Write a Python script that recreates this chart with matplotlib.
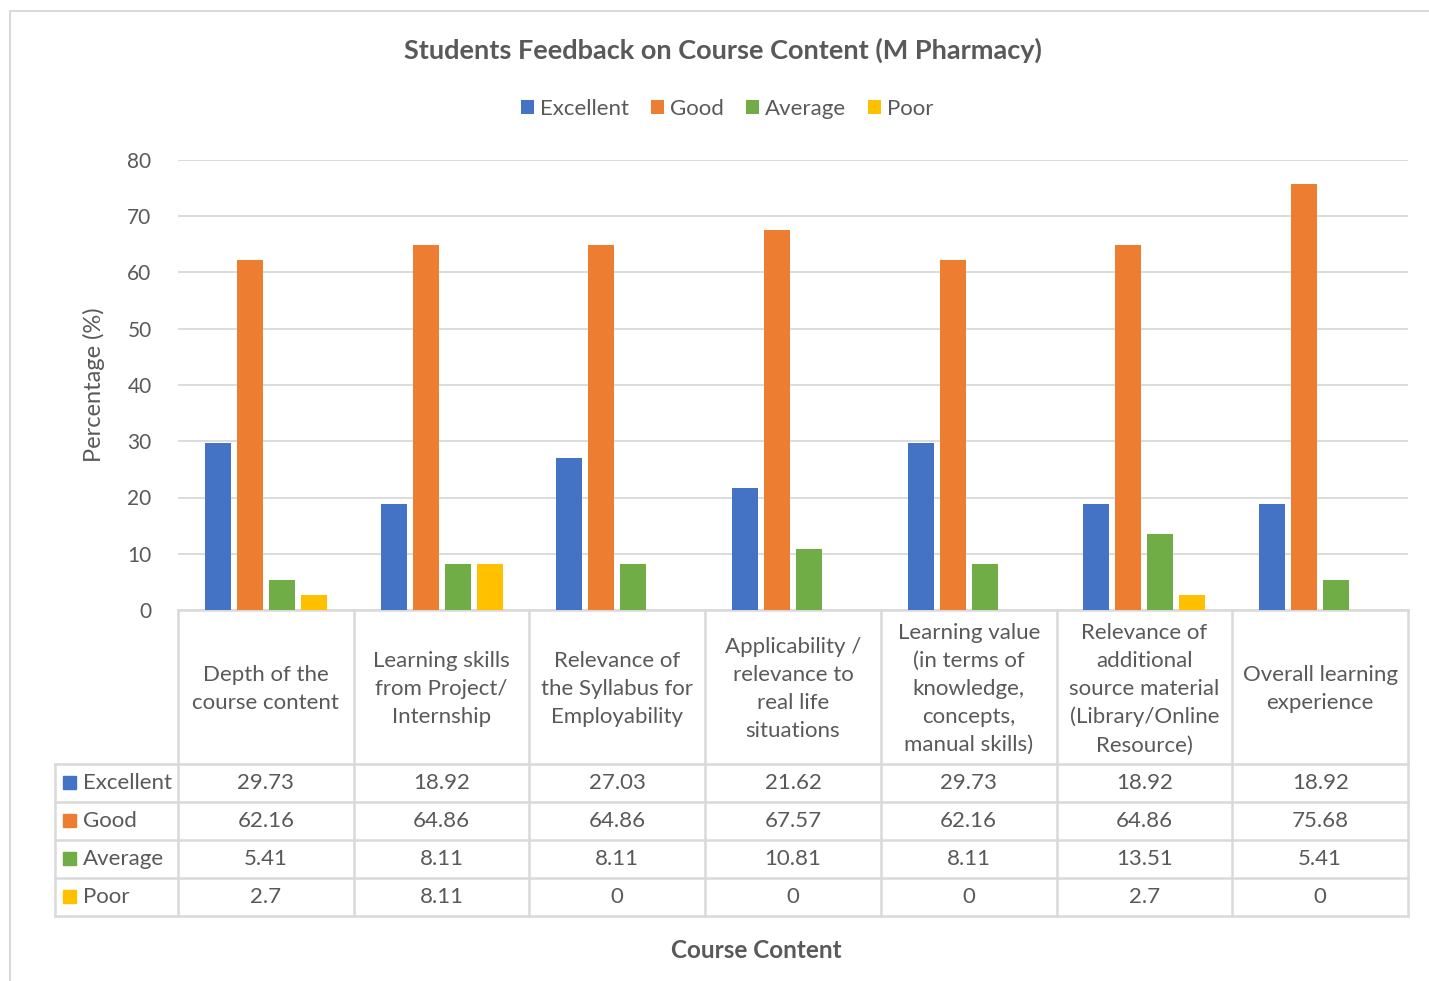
import numpy as np
import matplotlib.pyplot as plt
from matplotlib.patches import Rectangle

plt.rcParams['font.family'] = ['Lato', 'DejaVu Sans']

categories = [
    "Depth of the\ncourse content",
    "Learning skills\nfrom Project/\nInternship",
    "Relevance of\nthe Syllabus for\nEmployability",
    "Applicability /\nrelevance to\nreal life\nsituations",
    "Learning value\n(in terms of\nknowledge,\nconcepts,\nmanual skills)",
    "Relevance of\nadditional\nsource material\n(Library/Online\nResource)",
    "Overall learning\nexperience",
]
series_names = ["Excellent", "Good", "Average", "Poor"]
excellent = [29.73, 18.92, 27.03, 21.62, 29.73, 18.92, 18.92]
good = [62.16, 64.86, 64.86, 67.57, 62.16, 64.86, 75.68]
average = [5.41, 8.11, 8.11, 10.81, 8.11, 13.51, 5.41]
poor = [2.7, 8.11, 0, 0, 0, 2.7, 0]
colors = ["#4472C4", "#ED7D31", "#70AD47", "#FFC000"]

W, H = 1429, 981
TXT = "#595959"
GRID = "#d9d9d9"

fig = plt.figure(figsize=(W / 100, H / 100), dpi=100)

# plot area in pixels
x0, x1, ytop, ybot = 178, 1408, 160, 610
ax = fig.add_axes([x0 / W, 1 - ybot / H, (x1 - x0) / W, (ybot - ytop) / H])
values = [excellent, good, average, poor]
n = len(categories)
x = np.arange(n)
step = 0.182
bw = 0.148
for i, (name, vals, c) in enumerate(zip(series_names, values, colors)):
    ax.bar(x + (i - 1.5) * step, vals, width=bw, color=c, label=name, zorder=3)
ax.set_xlim(-0.5, n - 0.5)
ax.set_ylim(0, 80)
ax.set_yticks(range(0, 81, 10))
ax.yaxis.grid(True, color=GRID, linewidth=1.3, zorder=0)
ax.set_xticks([])
ax.tick_params(axis='y', length=0, pad=19, labelsize=15, labelcolor=TXT)
for s in ax.spines.values():
    s.set_visible(False)
ax.set_ylabel("Percentage (%)", fontsize=17, color=TXT, labelpad=16)

# overlay in pixel coordinates for the data table and frame
ov = fig.add_axes([0, 0, 1, 1], zorder=-1)
ov.set_xlim(0, W)
ov.set_ylim(H, 0)
ov.axis('off')
ov.plot([10, 10, W], [H, 11, 11], color=GRID, lw=1.5)

colw = (x1 - x0) / n
row_y = [764, 802, 840, 878, 916]
lx = 55
lw = 1.8
ov.plot([x0, x1], [ybot, ybot], color=GRID, lw=lw)
for yy in row_y:
    ov.plot([lx, x1], [yy, yy], color=GRID, lw=lw)
for k in range(n + 1):
    ov.plot([x0 + k * colw] * 2, [ybot, row_y[-1]], color=GRID, lw=lw)
ov.plot([lx, lx], [row_y[0], row_y[-1]], color=GRID, lw=lw)

for k, cat in enumerate(categories):
    cx = x0 + (k + 0.5) * colw
    ov.text(cx, (ybot + row_y[0]) / 2 + 2, cat, ha='center', va='center',
            fontsize=16, color=TXT, linespacing=1.5)
for r, (name, vals, c) in enumerate(zip(series_names, values, colors)):
    cy = (row_y[r] + row_y[r + 1]) / 2
    ov.add_patch(Rectangle((63, cy - 7), 13, 13, color=c))
    ov.text(83, cy, name, ha='left', va='center', fontsize=16, color=TXT)
    for k, v in enumerate(vals):
        ov.text(x0 + (k + 0.5) * colw, cy, f"{v:g}", ha='center', va='center',
                fontsize=16, color=TXT)

fig.text(723 / W, 1 - 50 / H, "Students Feedback on Course Content (M Pharmacy)",
         ha='center', va='center', fontsize=19.5, fontweight='bold', color=TXT)
fig.text(756 / W, 1 - 950 / H, "Course Content", ha='center', va='center',
         fontsize=17.5, fontweight='bold', color=TXT)

leg = ax.legend(loc='center', bbox_to_anchor=(727 / W, 1 - 109 / H),
                bbox_transform=fig.transFigure, ncol=4, frameon=False,
                fontsize=16, handlelength=0.6, handleheight=0.6,
                handletextpad=0.25, columnspacing=1.0)
for t in leg.get_texts():
    t.set_color(TXT)

fig.savefig("out.png", dpi=100)
